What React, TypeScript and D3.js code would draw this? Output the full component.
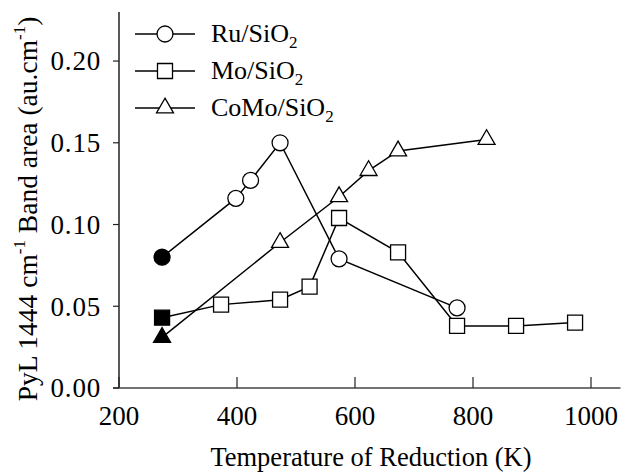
import React from "react";
import * as d3 from "d3";

// temperature of reduction (K) and band area for each catalyst
const ruTemp = [273, 398, 423, 473, 573, 773];
const ruArea = [0.08, 0.116, 0.127, 0.15, 0.079, 0.049];

const moTemp = [273, 373, 473, 523, 573, 673, 773, 873, 973];
const moArea = [0.043, 0.051, 0.054, 0.062, 0.104, 0.083, 0.038, 0.038, 0.04];

const comoTemp = [273, 473, 573, 623, 673, 823];
const comoArea = [0.031, 0.089, 0.117, 0.133, 0.145, 0.152];

const xTicks = [200, 400, 600, 800, 1000];
const yTicks = [0, 0.05, 0.1, 0.15, 0.2];

const series = [
  { name: "Ru/SiO", temp: ruTemp, area: ruArea, shape: d3.symbolCircle, size: 200 },
  { name: "Mo/SiO", temp: moTemp, area: moArea, shape: d3.symbolSquare, size: 225 },
  { name: "CoMo/SiO", temp: comoTemp, area: comoArea, shape: d3.symbolTriangle, size: 125 },
];

const font = "'Liberation Serif', 'Times New Roman', serif";

export default function App() {
  const width = 621;
  const height = 473;
  const x = d3.scaleLinear().domain([200, 1050]).range([119, 620.5]);
  const y = d3.scaleLinear().domain([0, 0.23]).range([388, 12]);

  const line = d3
    .line<[number, number]>()
    .x((d) => x(d[0]))
    .y((d) => y(d[1]));

  return (
    <svg
      width={width}
      height={height}
      style={{ position: "absolute", left: 0, top: 0, background: "#fff" }}
      fontFamily={font}
    >
      {/* axes */}
      <line x1={119} x2={119} y1={y(0.23)} y2={y(0)} stroke="#222" strokeWidth={1.5} />
      <line x1={113} x2={620.5} y1={y(0)} y2={y(0)} stroke="#444" strokeWidth={1.5} />
      {yTicks.map((t) => (
        <g key={t}>
          <line x1={113} x2={119} y1={y(t)} y2={y(t)} stroke="#222" strokeWidth={1.2} />
          <text x={101} y={y(t)} dy="0.35em" textAnchor="end" fontSize={27} letterSpacing={0.8}>
            {t.toFixed(2)}
          </text>
        </g>
      ))}
      {xTicks.map((t) => (
        <g key={t}>
          <line x1={x(t)} x2={x(t)} y1={y(0)} y2={y(0) - 11} stroke="#222" strokeWidth={1.2} />
          <text x={x(t)} y={425} textAnchor="middle" fontSize={27}>
            {t}
          </text>
        </g>
      ))}
      <text x={371} y={466} textAnchor="middle" fontSize={26.5}>
        Temperature of Reduction (K)
      </text>
      <text transform="translate(37,209) rotate(-90)" textAnchor="middle" fontSize={27.5}>
        PyL 1444 cm
        <tspan fontSize={17} dy={-12}>-1</tspan>
        <tspan dy={12}> Band area (au.cm</tspan>
        <tspan fontSize={17} dy={-12}>-1</tspan>
        <tspan dy={12}>)</tspan>
      </text>

      {/* series */}
      {series.map((s) => {
        const pts = s.temp.map((t, i) => [t, s.area[i]] as [number, number]);
        const sym = d3.symbol().type(s.shape).size(s.size)();
        return (
          <g key={s.name}>
            <path d={line(pts) || ""} fill="none" stroke="#000" strokeWidth={1.5} />
            {pts.map((p, i) => (
              <path
                key={i}
                d={sym || ""}
                transform={`translate(${x(p[0])},${y(p[1])})`}
                fill={i === 0 ? "#000" : "#fff"}
                stroke="#000"
                strokeWidth={1.3}
              />
            ))}
          </g>
        );
      })}

      {/* legend */}
      {series.map((s, i) => {
        const ly = 34 + i * 37;
        const sym = d3.symbol().type(s.shape).size(s.size)();
        return (
          <g key={s.name}>
            <line x1={135} x2={195} y1={ly} y2={ly} stroke="#000" strokeWidth={1.5} />
            <path d={sym || ""} transform={`translate(165,${ly})`} fill="#fff" stroke="#000" strokeWidth={1.3} />
            <text x={211} y={ly + 8} fontSize={26}>
              {s.name}
              <tspan fontSize={17} dy={6}>2</tspan>
            </text>
          </g>
        );
      })}
    </svg>
  );
}
